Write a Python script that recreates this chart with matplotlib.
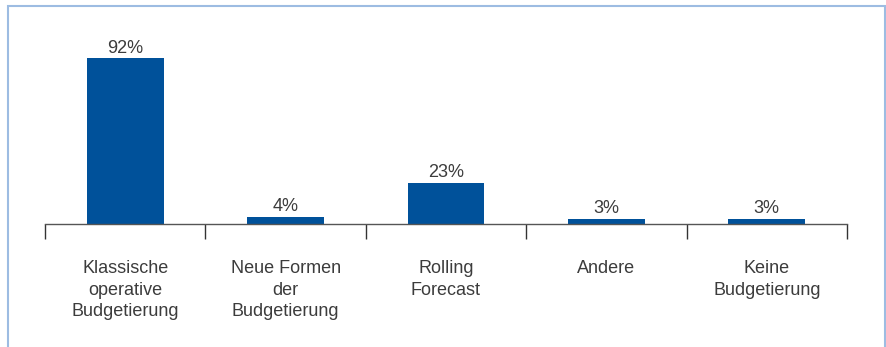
import matplotlib.pyplot as plt
from matplotlib.patches import Rectangle

kategorien = ["Klassische\noperative\nBudgetierung", "Neue Formen\nder\nBudgetierung",
              "Rolling\nForecast", "Andere", "Keine\nBudgetierung"]
anteile = [92, 4, 23, 3, 3]

plt.rcParams['font.family'] = ['Liberation Sans', 'DejaVu Sans']

fig = plt.figure(figsize=(8.87, 3.47), dpi=100)
W, H = 887, 347

# hellblauer Rahmen (unten offen)
fig.patches.append(Rectangle((8 / W, -0.05), 877 / W, 1.05 - 6 / H,
                             transform=fig.transFigure, fill=False,
                             edgecolor='#9dbce2', linewidth=1.5))

ax = fig.add_axes([45 / W, 123 / H, 802 / W, 180 / H])
x = range(len(anteile))
ax.bar(x, anteile, width=0.48, color='#00519a', zorder=2)
for i, v in zip(x, anteile):
    ax.text(i, v + 1.0, f"{v}%", ha='center', va='bottom', fontsize=13, color='#3c3c3c')

ax.set_xlim(-0.5, len(anteile) - 0.5)
ax.set_ylim(0, 100)
for s in ['top', 'right', 'left']:
    ax.spines[s].set_visible(False)
ax.spines['bottom'].set_color('#555555')
ax.spines['bottom'].set_linewidth(1)
ax.set_yticks([])

# Striche zwischen den Kategorien
ax.set_xticks([i - 0.5 for i in range(len(anteile) + 1)], minor=False)
ax.set_xticklabels([])
ax.tick_params(axis='x', direction='out', length=11, width=1, color='#333333')
ax.set_xticks(list(x), minor=True)
ax.set_xticklabels(kategorien, minor=True, fontsize=13, color='#3c3c3c', linespacing=1.36)
ax.tick_params(axis='x', which='minor', length=0, pad=26)

fig.savefig('out.png', dpi=100)
